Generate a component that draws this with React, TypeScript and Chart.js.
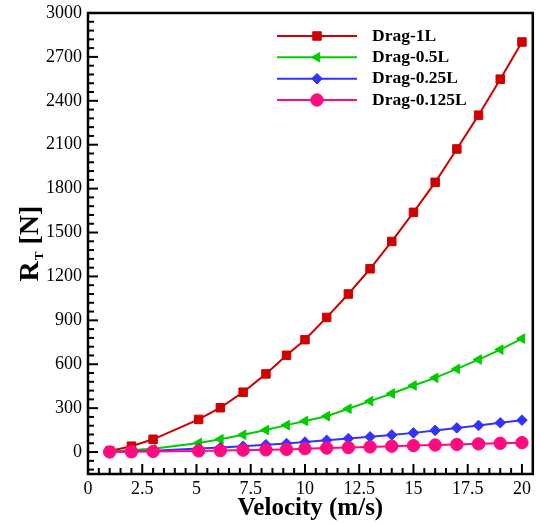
import React, { useEffect, useRef } from "react";
import { Chart, registerables } from "chart.js";
import { drawPoint } from "chart.js/helpers";

Chart.register(...registerables);

// ---- data ----
const velocity = [1, 2, 3, 5.1, 6.1, 7.15, 8.2, 9.15, 10, 11, 12, 13, 14, 15, 16, 17, 18, 19, 20];
const drag1L = [7, 40, 87, 223, 303, 409, 534, 661, 768, 920, 1080, 1252, 1439, 1638, 1843, 2071, 2302, 2548, 2802];
const drag05L = [4, 14, 22, 62, 88, 118, 150, 184, 212, 245, 296, 348, 400, 455, 507, 568, 632, 700, 775];
const drag025L = [2, 5, 9, 24, 31, 40, 50, 58, 68, 80, 92, 104, 117, 131, 148, 165, 182, 200, 218];
const drag0125L = [0.5, 2, 4, 8, 10, 13, 15, 18, 23, 27, 31, 35, 40, 44, 48, 52, 56, 60, 64];

const seriesNames = ["Drag-1L", "Drag-0.5L", "Drag-0.25L", "Drag-0.125L"];
const seriesColors = ["#D00000", "#00CC00", "#3333FF", "#FF0A80"];
const seriesValues = [drag1L, drag05L, drag025L, drag0125L];

const xTickValues = [0, 2.5, 5, 7.5, 10, 12.5, 15, 17.5, 20];
const yTickValues = [0, 300, 600, 900, 1200, 1500, 1800, 2100, 2400, 2700, 3000];
const xAxisTitle = "Velocity (m/s)";
const yTitleMain = "R";
const yTitleSub = "T";
const yTitleRest = " [N]";

const SERIF = "'Liberation Serif', 'Times New Roman', serif";

const pointStyles = [
  { pointStyle: "rect", radius: 6, rotation: 0 },
  { pointStyle: "triangle", radius: 5.5, rotation: -90 },
  { pointStyle: "rectRot", radius: 5.3, rotation: 0 },
  { pointStyle: "circle", radius: 6.2, rotation: 0 },
];

const frameTicksPlugin = {
  id: "frameTicks",
  afterDraw(chart: any) {
    const { ctx, chartArea, scales } = chart;
    const xs = scales.x;
    const ys = scales.y;
    ctx.save();
    ctx.strokeStyle = "#000";
    ctx.lineWidth = 2;
    // y ticks (inward), minor every 60
    for (let i = -2; i <= 50; i++) {
      const v = i * 60;
      const py = ys.getPixelForValue(v);
      if (py < chartArea.top - 0.5 || py > chartArea.bottom + 0.5) continue;
      const major = v % 300 === 0;
      const len = major ? 10 : 6;
      ctx.beginPath();
      ctx.moveTo(chartArea.left, py);
      ctx.lineTo(chartArea.left + len, py);
      ctx.stroke();
    }
    // x ticks (inward), minor every 0.5
    for (let i = 0; i <= 40; i++) {
      const v = i * 0.5;
      const px = xs.getPixelForValue(v);
      const r = v / 2.5;
      const major = Math.abs(r - Math.round(r)) < 1e-6;
      const len = major ? 10 : 6;
      ctx.beginPath();
      ctx.moveTo(px, chartArea.bottom);
      ctx.lineTo(px, chartArea.bottom - len);
      ctx.stroke();
    }
    // frame
    ctx.lineWidth = 2.5;
    ctx.strokeRect(
      chartArea.left,
      chartArea.top,
      chartArea.right - chartArea.left,
      chartArea.bottom - chartArea.top
    );
    ctx.restore();
  },
};

const yTitlePlugin = {
  id: "yTitle",
  afterDraw(chart: any) {
    const { ctx, chartArea } = chart;
    const cy = (chartArea.top + chartArea.bottom) / 2;
    const mainFont = "bold 28px " + SERIF;
    const subFont = "bold 13px " + SERIF;
    ctx.save();
    ctx.fillStyle = "#000";
    ctx.textBaseline = "alphabetic";
    ctx.textAlign = "left";
    ctx.font = mainFont;
    const wR = ctx.measureText(yTitleMain).width;
    const wRest = ctx.measureText(yTitleRest).width;
    ctx.font = subFont;
    const wT = ctx.measureText(yTitleSub).width;
    const total = wR + 1 + wT + wRest;
    ctx.translate(38, cy + total / 2);
    ctx.rotate(-Math.PI / 2);
    ctx.font = mainFont;
    ctx.fillText(yTitleMain, 0, 0);
    ctx.font = subFont;
    ctx.fillText(yTitleSub, wR + 1, 5);
    ctx.font = mainFont;
    ctx.fillText(yTitleRest, wR + 1 + wT, 0);
    ctx.restore();
  },
};

const legendPlugin = {
  id: "insideLegend",
  afterDraw(chart: any) {
    const { ctx } = chart;
    const rows = [36, 57.3, 78.7, 100];
    ctx.save();
    chart.data.datasets.forEach((ds: any, i: number) => {
      const y = rows[i];
      ctx.strokeStyle = ds.borderColor;
      ctx.lineWidth = 2;
      ctx.beginPath();
      ctx.moveTo(277, y);
      ctx.lineTo(357, y);
      ctx.stroke();
      ctx.fillStyle = ds.borderColor;
      ctx.strokeStyle = ds.borderColor;
      ctx.lineWidth = 1;
      drawPoint(
        ctx,
        {
          pointStyle: ds.pointStyle,
          radius: ds.pointRadius,
          rotation: ds.pointRotation,
          borderWidth: 1,
        } as any,
        317,
        y
      );
      ctx.fillStyle = "#000";
      ctx.font = "bold 17.5px " + SERIF;
      ctx.textAlign = "left";
      ctx.textBaseline = "middle";
      ctx.fillText(ds.label, 372, y);
    });
    ctx.restore();
  },
};

export default function App() {
  const canvasRef = useRef<HTMLCanvasElement | null>(null);

  useEffect(() => {
    const canvas = canvasRef.current;
    if (!canvas) return;
    const datasets = seriesValues.map((vals, i) => ({
      label: seriesNames[i],
      data: velocity.map((v, j) => ({ x: v, y: vals[j] })),
      borderColor: seriesColors[i],
      backgroundColor: seriesColors[i],
      pointBackgroundColor: seriesColors[i],
      pointBorderColor: seriesColors[i],
      pointBorderWidth: 1,
      borderWidth: 2,
      pointStyle: pointStyles[i].pointStyle,
      pointRadius: pointStyles[i].radius,
      pointRotation: pointStyles[i].rotation,
      tension: 0,
      order: 4 - i,
    }));

    const chart = new Chart(canvas, {
      type: "line",
      data: { datasets } as any,
      options: {
        responsive: false,
        devicePixelRatio: 1,
        animation: false,
        events: [],
        layout: { padding: { top: 13, right: 4, left: 0, bottom: 0 } },
        plugins: {
          legend: { display: false },
          tooltip: { enabled: false },
        },
        scales: {
          x: {
            type: "linear",
            position: "bottom",
            min: 0,
            max: 20.5,
            grid: { display: false, drawTicks: false },
            border: { display: false },
            afterBuildTicks: (s: any) => {
              s.ticks = xTickValues.map((v) => ({ value: v }));
            },
            afterFit: (s: any) => {
              s.height = 51;
              s.paddingLeft = 0;
              s.paddingRight = 0;
              s.paddingTop = 0;
              s.paddingBottom = 0;
            },
            ticks: {
              autoSkip: false,
              maxRotation: 0,
              padding: 4,
              color: "#000",
              font: { family: SERIF, size: 18 },
              callback: (v: any) => String(v),
            },
            title: {
              display: true,
              text: xAxisTitle,
              color: "#000",
              font: { family: SERIF, size: 25, weight: "bold" },
              padding: { top: 0, bottom: 1 },
            },
          },
          y: {
            type: "linear",
            min: -150,
            max: 3000,
            grid: { display: false, drawTicks: false },
            border: { display: false },
            afterBuildTicks: (s: any) => {
              s.ticks = yTickValues.map((v) => ({ value: v }));
            },
            afterFit: (s: any) => {
              s.width = 88;
              s.paddingLeft = 0;
              s.paddingRight = 0;
              s.paddingTop = 0;
              s.paddingBottom = 0;
            },
            ticks: {
              autoSkip: false,
              padding: 6,
              color: "#000",
              font: { family: SERIF, size: 18 },
              callback: (v: any) => String(v),
            },
          },
        },
      } as any,
      plugins: [frameTicksPlugin, yTitlePlugin, legendPlugin],
    });

    return () => {
      chart.destroy();
    };
  }, []);

  return (
    <div style={{ position: "absolute", left: 0, top: 0, width: 540, height: 525, background: "#fff" }}>
      <canvas ref={canvasRef} width={540} height={525} style={{ display: "block", width: 540, height: 525 }} />
    </div>
  );
}
